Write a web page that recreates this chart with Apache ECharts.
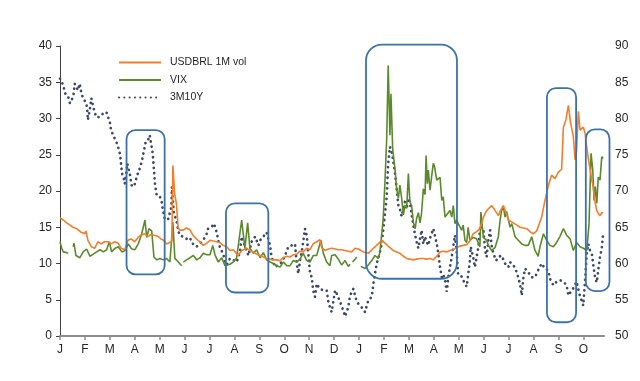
<!DOCTYPE html>
<html><head><meta charset="utf-8">
<script src="https://cdn.jsdelivr.net/npm/echarts@6/dist/echarts.min.js"></script>
<style>html,body{margin:0;padding:0;background:#fff}#c{width:640px;height:381px}</style>
</head><body><div id="c"></div>
<script>
// x positions are in months since 1 Jan 2017
const monthLabels = ['J','F','M','A','M','J','J','A','S','O','N','D','J','F','M','A','M','J','J','A','S','O'];
const seriesNames = ['USDBRL 1M vol', 'VIX', '3M10Y'];

const usdbrl = [[0,16.3],[0.13,16.0],[0.27,15.6],[0.40,15.3],[0.52,15.0],[0.67,14.8],[0.72,14.6],[0.85,14.3],[0.99,14.1],[1.04,14.5],[1.12,13.2],[1.26,12.3],[1.39,12.1],[1.52,13.0],[1.65,12.7],[1.79,13.0],[1.93,13.0],[2.05,12.7],[2.20,13.0],[2.33,12.8],[2.45,12.1],[2.60,11.9],[2.73,13.2],[2.85,13.4],[3.00,13.0],[3.13,13.6],[3.25,13.9],[3.40,14.1],[3.53,13.7],[3.65,14.0],[3.77,13.9],[3.90,13.8],[4.05,13.4],[4.15,13.2],[4.28,12.7],[4.40,12.9],[4.49,13.0],[4.53,23.5],[4.60,19.6],[4.67,18.3],[4.74,15.0],[4.80,14.6],[4.94,14.6],[5.07,14.9],[5.20,14.7],[5.34,13.9],[5.47,13.4],[5.61,13.0],[5.75,12.5],[5.89,12.8],[6.02,13.2],[6.15,13.1],[6.29,13.0],[6.41,12.9],[6.54,12.5],[6.69,12.3],[6.82,11.8],[6.95,11.9],[7.02,11.7],[7.15,11.1],[7.29,11.8],[7.49,12.1],[7.62,11.8],[7.74,11.6],[7.89,11.3],[8.03,11.1],[8.16,10.9],[8.29,10.7],[8.43,10.6],[8.55,10.5],[8.70,10.5],[8.83,10.4],[8.96,10.8],[9.10,11.0],[9.23,10.9],[9.36,11.2],[9.50,11.3],[9.63,11.7],[9.76,11.6],[9.90,12.1],[10.03,11.9],[10.16,12.7],[10.30,13.0],[10.43,13.3],[10.50,12.2],[10.63,11.8],[10.77,12.0],[10.90,12.1],[11.04,12.0],[11.17,11.9],[11.30,11.9],[11.44,11.8],[11.57,11.7],[11.70,11.6],[11.84,12.1],[11.97,12.0],[12.17,11.6],[12.37,11.4],[12.57,12.1],[12.77,12.7],[12.91,13.2],[13.04,12.8],[13.17,12.4],[13.37,11.8],[13.51,11.6],[13.64,11.4],[13.78,11.0],[13.91,10.7],[14.04,10.6],[14.18,10.5],[14.31,10.6],[14.45,10.7],[14.58,10.7],[14.71,10.6],[14.85,10.7],[14.98,10.5],[15.12,11.0],[15.25,11.6],[15.38,11.7],[15.52,11.6],[15.65,11.8],[15.78,11.9],[15.92,12.2],[16.05,12.4],[16.18,12.5],[16.32,12.6],[16.45,13.1],[16.58,14.1],[16.72,14.4],[16.85,14.8],[16.92,15.5],[16.99,16.4],[17.12,17.3],[17.32,18.0],[17.46,17.3],[17.59,16.6],[17.66,17.2],[17.79,18.0],[17.92,16.8],[17.99,16.0],[18.19,15.6],[18.33,15.3],[18.46,15.0],[18.59,14.9],[18.73,14.8],[18.86,14.4],[18.99,14.1],[19.06,13.9],[19.13,14.5],[19.33,16.4],[19.46,18.7],[19.60,20.8],[19.73,22.2],[19.86,21.7],[20.00,22.6],[20.13,23.0],[20.20,28.8],[20.30,29.8],[20.40,31.8],[20.49,29.4],[20.60,27.5],[20.67,24.3],[20.73,25.5],[20.80,31.0],[20.87,28.4],[20.93,28.2],[21.00,28.8],[21.07,28.0],[21.14,26.0],[21.20,24.5],[21.27,23.0],[21.34,21.5],[21.40,20.5],[21.47,18.5],[21.54,17.3],[21.60,16.9],[21.67,16.6],[21.74,17.0],[21.80,17.0]];

const vix = [[0,13.0],[0.07,12.1],[0.13,11.6],[0.27,11.5],[0.33,11.4],[0.45,null],[0.53,12.3],[0.56,12.8],[0.64,11.1],[0.80,10.8],[0.93,11.6],[1.07,12.0],[1.20,11.0],[1.34,11.3],[1.47,11.6],[1.61,11.9],[1.74,11.6],[1.87,11.9],[1.98,13.0],[2.07,11.6],[2.21,12.1],[2.34,12.3],[2.48,11.6],[2.61,11.8],[2.74,12.7],[2.88,12.0],[3.01,11.9],[3.14,12.7],[3.28,14.1],[3.41,16.0],[3.48,13.6],[3.57,14.8],[3.68,14.5],[3.77,10.9],[3.88,10.5],[4.01,10.7],[4.15,10.5],[4.28,10.7],[4.41,10.2],[4.53,15.7],[4.61,10.7],[4.75,10.2],[4.88,9.7],[4.91,null],[4.95,10.2],[5.08,10.5],[5.22,10.8],[5.35,11.1],[5.49,10.5],[5.62,10.8],[5.75,11.4],[5.89,11.2],[6.02,11.2],[6.13,12.5],[6.22,11.2],[6.35,10.2],[6.49,10.8],[6.62,9.7],[6.82,9.9],[6.95,10.2],[7.09,10.8],[7.17,10.8],[7.29,16.0],[7.42,12.1],[7.53,15.6],[7.62,12.1],[7.76,11.4],[7.89,11.9],[8.03,10.8],[8.16,11.5],[8.29,10.5],[8.43,10.2],[8.56,10.0],[8.70,9.7],[8.83,9.5],[8.96,10.2],[9.10,9.7],[9.23,9.7],[9.36,10.4],[9.50,10.2],[9.63,10.6],[9.76,11.4],[9.90,10.4],[10.03,10.2],[10.16,11.1],[10.30,11.1],[10.47,13.2],[10.57,11.4],[10.70,10.2],[10.83,9.7],[10.90,11.1],[11.04,11.2],[11.17,10.6],[11.30,9.8],[11.44,10.4],[11.57,9.6],[11.64,9.9],[11.67,null],[11.74,10.2],[11.84,10.6],[11.91,10.9],[11.95,null],[12.07,9.6],[12.11,9.8],[12.24,9.3],[12.37,9.8],[12.51,10.4],[12.64,11.1],[12.77,10.7],[12.84,11.6],[12.97,16.2],[13.04,21.2],[13.11,27.3],[13.17,37.3],[13.24,27.7],[13.28,33.4],[13.35,25.8],[13.44,23.1],[13.51,20.3],[13.58,19.0],[13.64,20.8],[13.71,19.0],[13.78,16.7],[13.84,18.0],[13.91,17.6],[13.98,22.4],[14.04,18.5],[14.11,18.0],[14.18,15.7],[14.25,14.8],[14.31,16.2],[14.38,17.0],[14.45,15.6],[14.51,17.0],[14.58,20.3],[14.65,19.5],[14.69,24.9],[14.74,21.0],[14.78,22.9],[14.85,20.1],[14.91,21.9],[14.98,23.8],[15.02,23.5],[15.12,21.5],[15.18,21.5],[15.25,21.9],[15.32,18.7],[15.38,19.2],[15.45,16.4],[15.52,16.4],[15.58,17.0],[15.65,17.3],[15.72,16.4],[15.78,18.0],[15.85,15.5],[15.92,16.0],[15.98,15.5],[16.12,14.6],[16.18,15.3],[16.25,13.2],[16.32,12.9],[16.38,15.0],[16.45,13.2],[16.58,13.6],[16.72,13.4],[16.85,12.3],[16.89,17.1],[16.99,13.6],[17.12,13.2],[17.19,12.5],[17.32,11.8],[17.46,12.2],[17.59,13.7],[17.66,16.0],[17.72,17.3],[17.79,17.8],[17.86,16.4],[17.92,17.2],[18.06,15.0],[18.13,15.5],[18.26,13.7],[18.39,13.2],[18.53,12.7],[18.66,12.5],[18.79,12.5],[18.93,13.7],[19.06,11.8],[19.19,11.0],[19.26,12.3],[19.40,14.1],[19.53,13.2],[19.66,12.5],[19.80,12.3],[19.93,12.9],[20.06,13.7],[20.20,14.8],[20.33,13.9],[20.47,13.4],[20.60,11.8],[20.73,12.9],[20.87,12.3],[21.00,12.1],[21.14,11.8],[21.23,15.5],[21.31,25.2],[21.38,22.9],[21.43,18.7],[21.48,20.6],[21.54,18.3],[21.60,21.9],[21.67,21.5],[21.74,24.7],[21.80,24.5]];

const rate3m10y = [[0,85.5],[0.13,84.6],[0.20,83.5],[0.33,83.0],[0.40,82.1],[0.53,83.0],[0.59,84.8],[0.72,83.9],[0.79,84.8],[0.85,83.7],[0.92,82.8],[1.06,82.1],[1.10,80.9],[1.12,79.8],[1.19,81.1],[1.26,82.8],[1.32,81.8],[1.45,80.2],[1.59,80.2],[1.73,80.7],[1.86,80.9],[1.93,80.9],[2.00,79.5],[2.04,78.6],[2.13,77.7],[2.20,77.9],[2.26,76.8],[2.33,76.1],[2.40,75.2],[2.44,74.2],[2.46,73.3],[2.49,72.4],[2.56,71.7],[2.60,71.0],[2.66,72.4],[2.70,73.8],[2.80,72.4],[2.87,70.8],[2.97,70.6],[3.10,72.2],[3.20,73.1],[3.29,74.2],[3.37,75.6],[3.44,76.8],[3.53,77.0],[3.60,77.7],[3.72,75.2],[3.77,72.9],[3.81,71.0],[3.88,69.4],[4.01,69.2],[4.07,68.7],[4.13,67.3],[4.20,66.2],[4.33,66.0],[4.40,66.2],[4.47,67.8],[4.49,70.6],[4.53,68.7],[4.57,66.9],[4.67,66.0],[4.74,64.6],[4.80,63.9],[4.94,63.7],[5.07,63.4],[5.20,63.6],[5.34,62.7],[5.47,62.3],[5.61,62.7],[5.74,63.2],[5.87,63.9],[5.94,64.8],[6.07,65.0],[6.18,65.5],[6.29,64.3],[6.35,63.2],[6.42,62.1],[6.55,61.4],[6.62,60.2],[6.69,59.8],[6.82,60.7],[6.95,60.5],[7.09,60.2],[7.22,61.6],[7.29,63.7],[7.42,62.4],[7.56,61.1],[7.69,63.0],[7.83,63.7],[7.96,62.5],[8.03,63.2],[8.16,63.7],[8.29,64.3],[8.43,62.5],[8.49,60.9],[8.63,59.5],[8.76,59.8],[8.90,60.2],[9.03,61.1],[9.16,62.3],[9.30,62.5],[9.43,62.7],[9.50,60.0],[9.56,58.6],[9.63,60.4],[9.70,61.6],[9.79,63.7],[9.83,64.8],[9.90,63.9],[9.96,61.5],[10.03,58.8],[10.10,58.1],[10.16,56.3],[10.23,55.4],[10.30,57.2],[10.43,56.5],[10.57,56.3],[10.70,56.3],[10.77,54.7],[10.83,54.0],[10.90,53.3],[11.04,56.3],[11.10,55.9],[11.24,54.7],[11.37,53.5],[11.44,52.7],[11.57,54.0],[11.64,55.6],[11.77,56.5],[11.91,54.7],[12.04,54.2],[12.17,53.7],[12.24,53.3],[12.37,54.9],[12.51,55.4],[12.57,57.0],[12.64,58.6],[12.71,60.0],[12.84,61.6],[12.91,62.7],[12.97,64.6],[13.04,66.9],[13.11,69.2],[13.17,73.8],[13.24,76.1],[13.31,75.4],[13.37,75.4],[13.44,72.6],[13.51,70.3],[13.58,68.0],[13.64,67.5],[13.71,66.5],[13.78,67.6],[13.84,68.5],[13.91,67.5],[13.98,69.0],[14.04,68.5],[14.11,66.7],[14.18,65.3],[14.25,63.9],[14.31,63.0],[14.38,62.1],[14.45,63.5],[14.51,64.6],[14.58,62.7],[14.65,63.7],[14.71,63.0],[14.78,62.5],[14.85,63.5],[14.91,64.1],[14.98,64.8],[15.05,65.0],[15.12,62.7],[15.18,61.4],[15.25,59.5],[15.32,58.1],[15.38,58.5],[15.45,57.7],[15.52,56.1],[15.58,58.1],[15.65,59.5],[15.72,60.9],[15.78,62.3],[15.85,63.9],[15.92,61.5],[15.98,58.4],[16.12,58.2],[16.18,57.7],[16.32,56.8],[16.38,58.5],[16.45,60.4],[16.48,62.3],[16.58,60.9],[16.65,59.5],[16.79,62.3],[16.85,64.6],[16.89,65.3],[16.99,64.6],[17.06,61.8],[17.12,60.9],[17.19,63.2],[17.26,64.6],[17.32,62.5],[17.39,61.4],[17.50,60.4],[17.59,60.9],[17.72,61.1],[17.86,60.0],[17.99,59.5],[18.06,60.2],[18.19,59.8],[18.33,58.8],[18.46,57.2],[18.53,55.6],[18.59,57.9],[18.66,59.3],[18.79,58.8],[18.93,58.1],[19.06,58.1],[19.19,59.1],[19.33,60.0],[19.46,59.3],[19.60,59.0],[19.66,57.9],[19.80,57.0],[19.93,57.5],[20.06,57.7],[20.20,57.5],[20.33,57.0],[20.40,55.6],[20.47,55.4],[20.60,56.6],[20.73,57.5],[20.84,55.8],[20.93,54.9],[21.00,54.2],[21.07,57.7],[21.14,61.4],[21.20,62.7],[21.27,61.8],[21.34,61.4],[21.40,59.8],[21.47,58.1],[21.54,57.4],[21.60,59.1],[21.67,60.9],[21.74,62.1],[21.80,64.3]];

// highlighted periods: [startMonth, endMonth, topValue, bottomValue] on the left axis
const highlightBoxes = [[2.67,4.20,28.4,8.5],[6.66,8.36,18.3,6.0],[12.28,15.93,40.2,7.9],[19.54,20.71,34.2,1.9],[21.10,22.05,28.5,6.2]];

const FONT = '"Liberation Sans", Arial, sans-serif';
const TXT = '#262626';
const chart = echarts.init(document.getElementById('c'), null, {renderer: 'canvas'});
chart.setOption({
  animation: false,
  backgroundColor: '#fff',
  grid: {left: 60, right: 36, top: 46, bottom: 45, containLabel: false},
  legend: {
    orient: 'vertical', left: 113, top: 52, itemWidth: 42, itemHeight: 12, itemGap: 6.5,
    data: seriesNames,
    itemStyle: {opacity: 0},
    textStyle: {fontFamily: FONT, fontSize: 10.5, color: TXT, padding: [0, 0, 0, 4]}
  },
  xAxis: {
    type: 'value', min: 0, max: 21.83, interval: 1,
    axisLine: {show: true, lineStyle: {color: '#8c8c8c', width: 2}},
    axisTick: {show: true, length: 4, lineStyle: {color: '#8c8c8c', width: 1.5}},
    splitLine: {show: false},
    axisLabel: {
      margin: 8, color: TXT, fontFamily: FONT, fontSize: 12, showMaxLabel: false,
      formatter: v => monthLabels[Math.round(v)] || ''
    }
  },
  yAxis: [
    {type: 'value', min: 0, max: 40, interval: 5, position: 'left',
     axisLine: {show: true, lineStyle: {color: '#404040', width: 1}},
     axisTick: {show: true, length: 4, lineStyle: {color: '#404040'}},
     splitLine: {show: false},
     axisLabel: {margin: 8, color: TXT, fontFamily: FONT, fontSize: 12}},
    {type: 'value', min: 50, max: 90, interval: 5, position: 'right',
     axisLine: {show: false}, axisTick: {show: false}, splitLine: {show: false},
     axisLabel: {margin: 11, color: TXT, fontFamily: FONT, fontSize: 12}}
  ],
  series: [
    {name: seriesNames[2], type: 'line', yAxisIndex: 1, data: rate3m10y, symbol: 'none', z: 2,
     itemStyle: {color: '#3C4A68'},
     lineStyle: {color: '#3C4A68', width: 2.7, type: [0.1, 5.2], cap: 'round'}},
    {name: seriesNames[1], type: 'line', data: vix, symbol: 'none', connectNulls: false, z: 3,
     itemStyle: {color: '#5A8A2C'}, lineStyle: {color: '#5A8A2C', width: 1.6}},
    {name: seriesNames[0], type: 'line', data: usdbrl, symbol: 'none', z: 4,
     itemStyle: {color: '#F47E2B'}, lineStyle: {color: '#F47E2B', width: 1.6}}
  ]
});

const graphics = highlightBoxes.map(b => {
  const p0 = chart.convertToPixel({xAxisIndex: 0, yAxisIndex: 0}, [b[0], b[2]]);
  const p1 = chart.convertToPixel({xAxisIndex: 0, yAxisIndex: 0}, [b[1], b[3]]);
  const w = p1[0] - p0[0], h = p1[1] - p0[1];
  return {
    type: 'rect', z: 100, silent: true,
    shape: {x: p0[0], y: p0[1], width: w, height: h, r: w > 60 ? 16 : 9},
    style: {fill: 'none', stroke: '#3D72A8', lineWidth: 1.8}
  };
});
chart.setOption({graphic: graphics});
</script>
</body></html>
